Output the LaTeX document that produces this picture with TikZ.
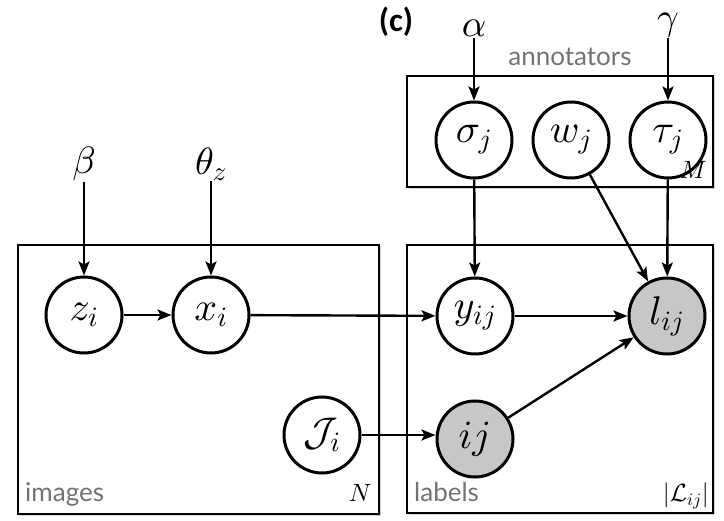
\documentclass[tikz,border=0pt]{standalone}
\usepackage{fontspec}
\setmainfont{Latin Modern Roman}
\newfontfamily\lblfont{Lato}
\newfontfamily\capfont{Carlito}
\DeclareFontShape{OML}{cmm}{m}{it}{<-6>cmmi5<6-8>cmmi7<8-10>cmmi9<10->cmmi10}{}
\DeclareFontShape{OMS}{cmsy}{m}{n}{<-6>cmsy5<6-8>cmsy7<8-10>cmsy9<10->cmsy10}{}
\DeclareFontShape{OMX}{cmex}{m}{n}{<->cmex10}{}
\DeclareFontShape{OT1}{cmr}{m}{n}{<-6>cmr5<6-8>cmr7<8-10>cmr9<10-12>cmr10<12->cmr12}{}
\usetikzlibrary{arrows.meta,shadows}
\tikzset{
  rv/.style={circle,draw,line width=3pt,minimum size=76pt,inner sep=0pt,font=\fontsize{40}{44}\selectfont},
  obs/.style={rv,fill=black!22},
  param/.style={inner sep=1pt,font=\fontsize{38}{42}\selectfont},
  plate/.style={draw,line width=1.6pt,fill=white,drop shadow={shadow xshift=2pt,shadow yshift=-2pt,opacity=0.35}},
  edge/.style={line width=2.4pt,-{Stealth[length=14pt,width=11pt,inset=3pt]}},
  platelbl/.style={font=\lblfont\fontsize{26}{30}\selectfont,text=black!55,inner sep=0pt},
  platenum/.style={font=\fontsize{25}{28}\selectfont,inner sep=0pt}
}
\begin{document}
\begin{tikzpicture}[x=1pt,y=-1pt]
\useasboundingbox (0,0) rectangle (724,521);
% plates
\draw[plate] (18,245) rectangle (379,514);
\draw[plate] (407,245) rectangle (713,513);
\draw[plate] (407,76) rectangle (713,187);
\node[platelbl,anchor=base west] (limg) at (25,502) {images};
\node[platelbl,anchor=base west] (llab) at (414,502) {labels};
\node[platelbl] (lann) at (570,57) {annotators};
\node[platenum,anchor=base east] (nN) at (372,502) {$N$};
\node[platenum,anchor=base east] (nM) at (707,179) {$M$};
\node[platenum,anchor=base east] (nL) at (709,502) {$|\mathcal{L}_{ij}|$};
\node[font=\capfont\bfseries\fontsize{33}{36}\selectfont,inner sep=0pt] (cap) at (396,22) {(c)};
% nodes
\node[rv] (z) at (84,315) {$z_i$};
\node[rv] (x) at (211,315) {$x_i$};
\node[rv] (J) at (322,435) {$\mathcal{J}_i$};
\node[rv] (y) at (475,316) {$y_{ij}$};
\node[obs] (l) at (667,316) {$l_{ij}$};
\node[obs] (ij) at (475,439) {$ij$};
\node[rv] (s) at (474,140) {$\sigma_j$};
\node[rv] (w) at (571,140) {$w_j$};
\node[rv] (t) at (668,140) {$\tau_j$};
\node[param] (beta) at (84,164) {$\beta$};
\node[param] (theta) at (211,164) {$\theta_z$};
\node[param,anchor=south] (alpha) at (474,38) {$\alpha$};
\node[param,anchor=south] (gamma) at (668,38) {$\gamma$};
% edges
\draw[edge] (beta.south) -- (z.north);
\draw[edge] (theta.south -| x.north) -- (x.north);
\draw[edge] (alpha.south) -- (s.north);
\draw[edge] (gamma.south -| t.north) -- (t.north);
\draw[edge] (z) -- (x);
\draw[edge] (x) -- (y);
\draw[edge] (J.east) -- (ij.west |- J.east);
\draw[edge] (y) -- (l);
\draw[edge] (ij) -- (l);
\draw[edge] (s) -- (y);
\draw[edge] (w) -- (l);
\draw[edge] (t) -- (l);
\end{tikzpicture}
\end{document}
